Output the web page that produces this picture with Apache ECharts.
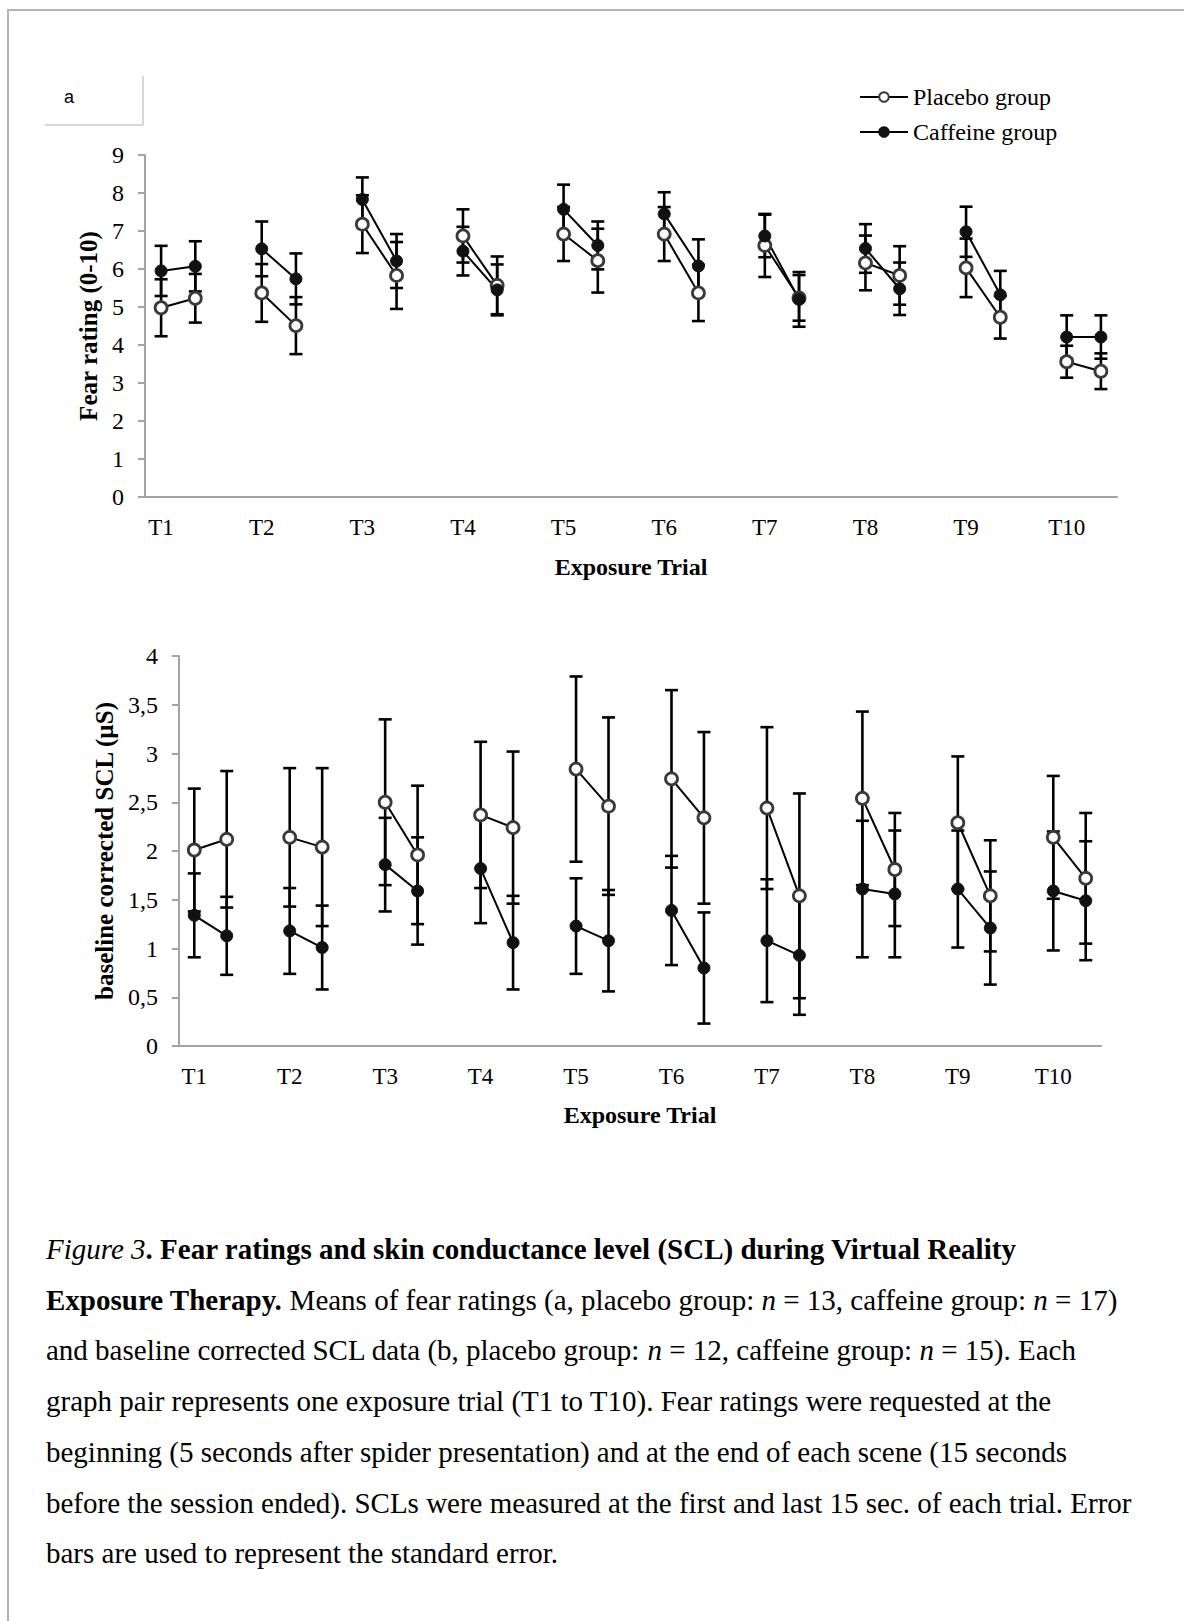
<!DOCTYPE html>
<html>
<head>
<meta charset="utf-8">
<script src="https://cdn.jsdelivr.net/npm/echarts@6/dist/echarts.min.js"></script>
<style>
html,body{margin:0;padding:0;background:#fff;}
#chart{width:1184px;height:1621px;}
</style>
</head>
<body>
<div id="chart"></div>
<script>
// ---------- data ----------
const trials = ['T1','T2','T3','T4','T5','T6','T7','T8','T9','T10'];

// Panel a: fear ratings (0-10), start / end of each trial, mean and standard error
const fearPlaceboStart    = [4.98, 5.37, 7.18, 6.87, 6.92, 6.92, 6.62, 6.16, 6.03, 3.56];
const fearPlaceboStartSE  = [0.75, 0.76, 0.76, 0.70, 0.71, 0.71, 0.83, 0.72, 0.77, 0.42];
const fearPlaceboEnd      = [5.23, 4.51, 5.83, 5.57, 6.22, 5.37, 5.24, 5.83, 4.73, 3.31];
const fearPlaceboEndSE    = [0.64, 0.75, 0.88, 0.76, 0.84, 0.74, 0.60, 0.77, 0.56, 0.47];
const fearCaffeineStart   = [5.95, 6.53, 7.83, 6.47, 7.57, 7.45, 6.87, 6.54, 6.98, 4.21];
const fearCaffeineStartSE = [0.66, 0.72, 0.58, 0.64, 0.65, 0.57, 0.56, 0.64, 0.66, 0.57];
const fearCaffeineEnd     = [6.07, 5.74, 6.21, 5.45, 6.62, 6.08, 5.20, 5.48, 5.32, 4.21];
const fearCaffeineEndSE   = [0.66, 0.67, 0.71, 0.67, 0.63, 0.70, 0.72, 0.69, 0.63, 0.57];

// Panel b: baseline corrected SCL (µS)
const sclPlaceboStart    = [2.01, 2.14, 2.50, 2.37, 2.84, 2.74, 2.44, 2.54, 2.29, 2.14];
const sclPlaceboStartSE  = [0.63, 0.71, 0.85, 0.75, 0.95, 0.91, 0.83, 0.89, 0.68, 0.63];
const sclPlaceboEnd      = [2.12, 2.04, 1.96, 2.24, 2.46, 2.34, 1.54, 1.81, 1.54, 1.72];
const sclPlaceboEndSE    = [0.70, 0.81, 0.71, 0.78, 0.91, 0.88, 1.05, 0.58, 0.57, 0.67];
const sclCaffeineStart   = [1.34, 1.18, 1.86, 1.82, 1.23, 1.39, 1.08, 1.61, 1.61, 1.59];
const sclCaffeineStartSE = [0.43, 0.44, 0.48, 0.56, 0.49, 0.56, 0.63, 0.70, 0.60, 0.61];
const sclCaffeineEnd     = [1.13, 1.01, 1.59, 1.06, 1.08, 0.80, 0.93, 1.56, 1.21, 1.49];
const sclCaffeineEndSE   = [0.40, 0.43, 0.55, 0.48, 0.52, 0.57, 0.61, 0.65, 0.58, 0.61];

const fearTicks = [0,1,2,3,4,5,6,7,8,9];
const sclTicks = ['0','0,5','1','1,5','2','2,5','3','3,5','4'];

const captionLines = [
  '{i|Figure 3}{b|. Fear ratings and skin conductance level (SCL) during Virtual Reality}',
  '{b|Exposure Therapy.}{r| Means of fear ratings (a, placebo group: }{i|n}{r| = 13, caffeine group: }{i|n}{r| = 17)}',
  '{r|and baseline corrected SCL data (b, placebo group: }{i|n}{r| = 12, caffeine group: }{i|n}{r| = 15). Each}',
  '{r|graph pair represents one exposure trial (T1 to T10). Fear ratings were requested at the}',
  '{r|beginning (5 seconds after spider presentation) and at the end of each scene (15 seconds}',
  '{r|before the session ended). SCLs were measured at the first and last 15 sec. of each trial. Error}',
  '{r|bars are used to represent the standard error.}'
];

// ---------- helpers ----------
const PAIR_OFFSET = 0.34;
const SERIF = '"Liberation Serif", "Times New Roman", serif';
const CAP_FS = 29;
const CAP_TOP = 1249;
const CAP_STEP = 50.7;

function linePoints(start, end) {
  const out = [];
  trials.forEach((t, i) => {
    out.push([i + 1, start[i]]);
    out.push([i + 1 + PAIR_OFFSET, end[i]]);
    out.push([i + 1 + 0.67, '-']);
  });
  return out;
}
function errPoints(start, startSE, end, endSE) {
  const out = [];
  trials.forEach((t, i) => {
    out.push([i + 1, start[i], startSE[i]]);
    out.push([i + 1 + PAIR_OFFSET, end[i], endSE[i]]);
  });
  return out;
}
function renderErr(params, api) {
  const x = api.value(0), m = api.value(1), se = api.value(2);
  const top = api.coord([x, m + se]);
  const bot = api.coord([x, m - se]);
  const hw = 6.5;
  const st = {stroke: '#000', lineWidth: 2.6};
  return {type: 'group', children: [
    {type: 'line', shape: {x1: top[0], y1: top[1], x2: bot[0], y2: bot[1]}, style: st},
    {type: 'line', shape: {x1: top[0] - hw, y1: top[1], x2: top[0] + hw, y2: top[1]}, style: st},
    {type: 'line', shape: {x1: bot[0] - hw, y1: bot[1], x2: bot[0] + hw, y2: bot[1]}, style: st}
  ]};
}
const placeboSym = {color: '#fff', borderColor: '#3a3a3a', borderWidth: 2.8};
const caffeineSym = {color: '#111', borderColor: '#111', borderWidth: 1};

function lineSeries(name, data, gi, sym) {
  return {
    type: 'line', name: name, xAxisIndex: gi, yAxisIndex: gi, data: data,
    symbol: 'circle', symbolSize: 12, showAllSymbol: true, connectNulls: false,
    lineStyle: {color: '#000', width: 2}, itemStyle: sym, z: 3, animation: false
  };
}
function errSeries(data, gi) {
  return {
    type: 'custom', xAxisIndex: gi, yAxisIndex: gi, data: data,
    renderItem: renderErr, encode: {x: 0, y: 1}, z: 2, animation: false, silent: true
  };
}

const axisGray = '#a3a3a3';
function xAxis(gi, nameGap) {
  return {
    type: 'value', gridIndex: gi, min: 0.84, max: 10.5,
    name: 'Exposure Trial', nameLocation: 'middle', nameGap: nameGap,
    nameTextStyle: {fontFamily: SERIF, fontWeight: 'bold', fontSize: 24, color: '#000'},
    axisLine: {show: true, lineStyle: {color: axisGray, width: 2}},
    axisTick: {show: false},
    splitLine: {show: false},
    axisLabel: {
      customValues: trials.map((t, i) => i + 1),
      formatter: v => trials[Math.round(v) - 1] || '',
      fontFamily: SERIF, fontSize: 23, color: '#000', margin: 19
    }
  };
}

const chart = echarts.init(document.getElementById('chart'), null, {renderer: 'svg'});

const option = {
  backgroundColor: '#fff',
  animation: false,
  grid: [
    {left: 145, top: 155, width: 972, height: 342},
    {left: 179, top: 656, width: 922, height: 390}
  ],
  legend: {
    data: ['Placebo group', 'Caffeine group'],
    orient: 'vertical', left: 859, top: 85, padding: 0,
    itemWidth: 48, itemHeight: 12, itemGap: 11,
    textStyle: {fontFamily: SERIF, fontSize: 24, color: '#000'},
    selectedMode: false
  },
  xAxis: [xAxis(0, 58), xAxis(1, 57)],
  yAxis: [
    {
      type: 'value', gridIndex: 0, min: 0, max: 9, interval: 1,
      name: 'Fear rating (0-10)', nameLocation: 'middle', nameGap: 41, nameRotate: 90,
      nameTextStyle: {fontFamily: SERIF, fontWeight: 'bold', fontSize: 25, color: '#000'},
      axisLine: {show: true, lineStyle: {color: axisGray, width: 2}},
      axisTick: {show: true, inside: false, length: 7, lineStyle: {color: axisGray, width: 2}},
      splitLine: {show: false},
      axisLabel: {fontFamily: SERIF, fontSize: 24, color: '#000', margin: 21,
        formatter: v => String(fearTicks[Math.round(v)])}
    },
    {
      type: 'value', gridIndex: 1, min: 0, max: 4, interval: 0.5,
      name: 'baseline corrected SCL (µS)', nameLocation: 'middle', nameGap: 62, nameRotate: 90,
      nameTextStyle: {fontFamily: SERIF, fontWeight: 'bold', fontSize: 25, color: '#000'},
      axisLine: {show: true, lineStyle: {color: axisGray, width: 2}},
      axisTick: {show: true, inside: false, length: 7, lineStyle: {color: axisGray, width: 2}},
      splitLine: {show: false},
      axisLabel: {fontFamily: SERIF, fontSize: 24, color: '#000', margin: 21,
        formatter: v => sclTicks[Math.round(v * 2)]}
    }
  ],
  series: [
    errSeries(errPoints(fearPlaceboStart, fearPlaceboStartSE, fearPlaceboEnd, fearPlaceboEndSE), 0),
    errSeries(errPoints(fearCaffeineStart, fearCaffeineStartSE, fearCaffeineEnd, fearCaffeineEndSE), 0),
    lineSeries('Placebo group', linePoints(fearPlaceboStart, fearPlaceboEnd), 0, placeboSym),
    lineSeries('Caffeine group', linePoints(fearCaffeineStart, fearCaffeineEnd), 0, caffeineSym),
    errSeries(errPoints(sclPlaceboStart, sclPlaceboStartSE, sclPlaceboEnd, sclPlaceboEndSE), 1),
    errSeries(errPoints(sclCaffeineStart, sclCaffeineStartSE, sclCaffeineEnd, sclCaffeineEndSE), 1),
    lineSeries('Placebo group', linePoints(sclPlaceboStart, sclPlaceboEnd), 1, placeboSym),
    lineSeries('Caffeine group', linePoints(sclCaffeineStart, sclCaffeineEnd), 1, caffeineSym)
  ],
  graphic: [
    {type: 'polyline', shape: {points: [[8, 1621], [8, 10], [1184, 10]]},
      style: {stroke: '#b3b3b3', lineWidth: 2, fill: null}, silent: true},
    {type: 'polyline', shape: {points: [[45, 125], [143, 125], [143, 76]]},
      style: {stroke: '#cccccc', lineWidth: 1.5, fill: null}, silent: true},
    {type: 'text', left: 64, top: 88,
      style: {text: 'a', font: '18px "Liberation Sans", Arial, sans-serif', fill: '#000'}},
  ].concat(captionLines.map((line, k) => ({
    type: 'text', x: 46, y: CAP_TOP + k * CAP_STEP,
    style: {
      text: line, fill: '#000', verticalAlign: 'middle', align: 'left',
      fontFamily: SERIF, fontSize: CAP_FS,
      rich: {
        r: {fontFamily: SERIF, fontSize: CAP_FS, fill: '#000'},
        b: {fontFamily: SERIF, fontSize: CAP_FS, fontWeight: 'bold', fill: '#000'},
        i: {fontFamily: SERIF, fontSize: CAP_FS, fontStyle: 'italic', fill: '#000'}
      }
    }
  })))
};
chart.setOption(option);
</script>
</body>
</html>
